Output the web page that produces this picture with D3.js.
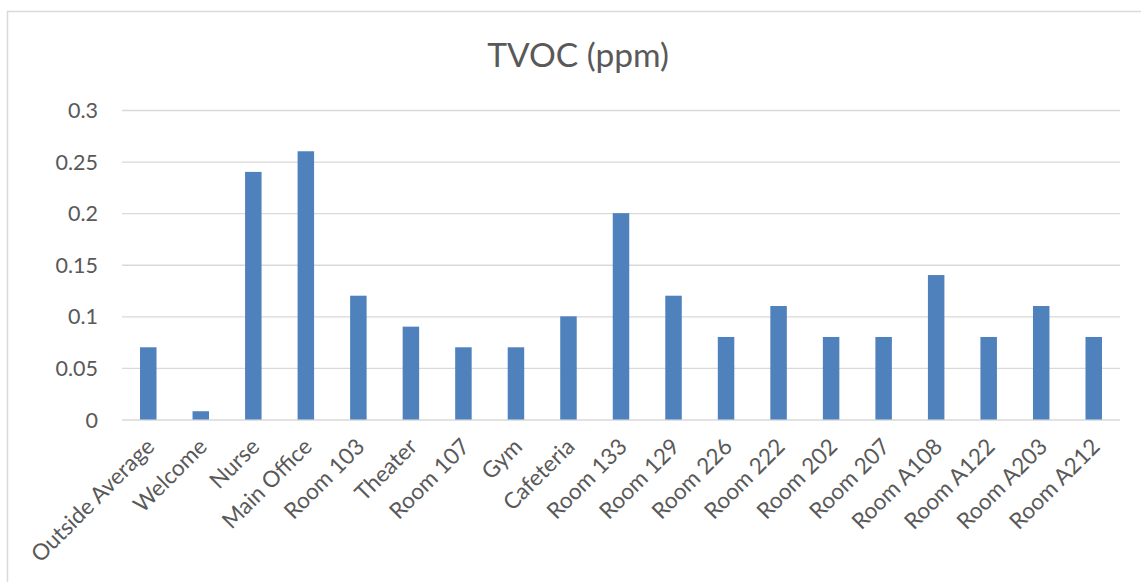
<!DOCTYPE html>
<html>
<head>
<meta charset="utf-8">
<script src="https://cdn.jsdelivr.net/npm/d3@7"></script>
<style>
  html, body { margin: 0; padding: 0; background: #fff; }
  svg { display: block; }
  text { font-family: Lato, "Open Sans", sans-serif; fill: #595959; }
</style>
</head>
<body>
<svg id="chart" width="1141" height="582"></svg>
<script>
const categories = ["Outside Average","Welcome","Nurse","Main Office","Room 103","Theater","Room 107","Gym","Cafeteria","Room 133","Room 129","Room 226","Room 222","Room 202","Room 207","Room A108","Room A122","Room A203","Room A212"];
const values = [0.07,0.008,0.24,0.26,0.12,0.09,0.07,0.07,0.10,0.20,0.12,0.08,0.11,0.08,0.08,0.14,0.08,0.11,0.08];
const yTicks = [0,0.05,0.1,0.15,0.2,0.25,0.3];
const yTickLabels = ["0","0.05","0.1","0.15","0.2","0.25","0.3"];
const title = "TVOC (ppm)";

const svg = d3.select("#chart");

// chart frame
svg.append("rect").attr("x",7.5).attr("y",11.5).attr("width",1200).attr("height",700)
  .attr("fill","#fff").attr("stroke","#d9d9d9").attr("stroke-width",1.5);

const x = d3.scaleBand().domain(categories).range([122,1120]).paddingInner(0.686).paddingOuter(0.343);
const y = d3.scaleLinear().domain([0,0.3]).range([419.5,110]);

// gridlines
const yAxis = d3.axisLeft(y).tickValues(yTicks).tickSize(-(1120-122)).tickFormat((d,i)=>yTickLabels[i]).tickPadding(24);
const gy = svg.append("g").attr("transform","translate(122,0)").call(yAxis);
gy.select(".domain").remove();
gy.selectAll(".tick line").attr("stroke","#d9d9d9").attr("stroke-width",1.3);
gy.selectAll(".tick text").attr("font-size",21.5).attr("fill","#595959").attr("dy","0.35em");

// bars
svg.append("g").selectAll("rect").data(values).join("rect")
  .attr("x",(d,i)=>x(categories[i]))
  .attr("width",x.bandwidth())
  .attr("y",d=>y(d))
  .attr("height",d=>y(0)-y(d))
  .attr("fill","#4f81bd");

// x axis labels
const xAxis = d3.axisBottom(x).tickSize(0).tickPadding(0);
const gx = svg.append("g").attr("transform","translate(0,419.5)").call(xAxis);
gx.select(".domain").remove();
gx.selectAll(".tick text")
  .attr("font-size",22.5).attr("fill","#595959")
  .attr("text-anchor","end")
  .attr("y",0).attr("dy","0.35em")
  .attr("transform","translate(2,23) rotate(-45)");

// title
svg.append("text").attr("x",578).attr("y",67).attr("text-anchor","middle")
  .attr("font-size",33.5).attr("fill","#595959").text(title);
</script>
</body>
</html>
